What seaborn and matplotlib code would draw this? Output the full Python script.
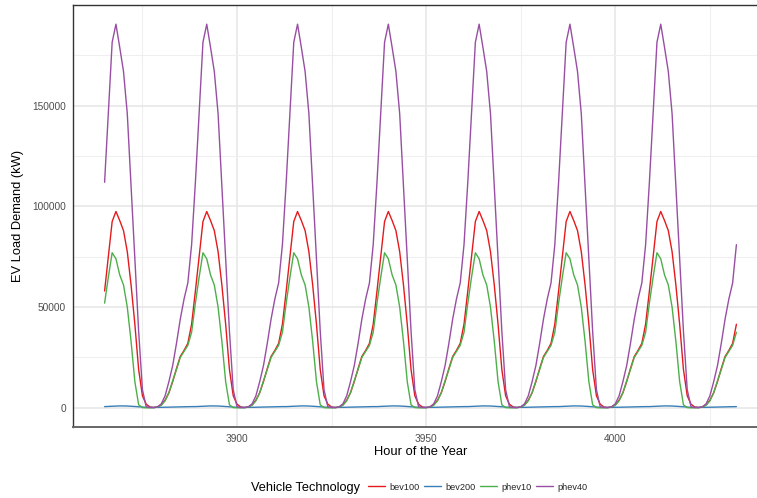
import numpy as np
import pandas as pd
import matplotlib
matplotlib.use("Agg")
import matplotlib.pyplot as plt
from matplotlib.ticker import MultipleLocator, FixedLocator
import seaborn as sns

# one week of hourly data, the seven days are identical in the source chart
start_hour = 3865
n_days = 7
techs = ["bev100", "bev200", "phev10", "phev40"]

# daily profiles (kW), hour 0 of the profile = hour 3865, 3889, ...
bev100_day = [58000, 75500, 92500, 97500, 93000, 88000, 77500, 61000,
              41500, 19000, 6000, 1800, 400, 150, 400, 1500,
              3800, 7500, 13000, 19500, 25500, 28500, 32000, 41500]
bev200_day = [600, 700, 800, 900, 950, 950, 900, 800,
              650, 500, 350, 250, 200, 200, 200, 250,
              300, 350, 400, 450, 500, 550, 550, 600]
phev10_day = [52000, 65000, 77000, 74000, 66000, 61000, 50000, 33000,
              13000, 1500, 100, 0, 0, 100, 400, 1300,
              3500, 7500, 13500, 19000, 25000, 28000, 31000, 37500]
phev40_day = [112000, 147000, 181500, 190500, 179000, 167000, 146000, 110000,
              73000, 38000, 9000, 500, 150, 100, 500, 2000,
              6000, 13000, 21000, 32000, 44000, 54000, 62000, 81000]

y_ticks = [0, 50000, 100000, 150000]
y_minor = [25000, 75000, 125000, 175000]

colors = ["#E41A1C", "#377EB8", "#4DAF4A", "#984EA3"]


def build_frame():
    hours = np.arange(start_hour, start_hour + 24 * n_days)
    profiles = [bev100_day, bev200_day, phev10_day, phev40_day]
    parts = []
    for tech, prof in zip(techs, profiles):
        parts.append(pd.DataFrame({"hour": hours,
                                   "load": np.tile(prof, n_days),
                                   "tech": tech}))
    return pd.concat(parts, ignore_index=True)


df = build_frame()

sns.set_style("white")
plt.rcParams["font.family"] = ["Liberation Sans", "DejaVu Sans"]

W, H = 757, 498
fig = plt.figure(figsize=(W / 100, H / 100), dpi=100)
# the full panel would end at x=768, the reference picture cuts it at 757
left, right, top, bottom = 73, 768, 5, 427
ax = fig.add_axes([left / W, 1 - bottom / H, (W - left) / W, (bottom - top) / H])

sns.lineplot(data=df, x="hour", y="load", hue="tech", hue_order=techs,
             palette=colors, linewidth=1.0, estimator=None, ax=ax)

x0, x1 = df["hour"].min(), df["hour"].max()
ymax = df["load"].max()
x_lo = x0 - 0.05 * (x1 - x0)
x_hi = x1 + 0.05 * (x1 - x0)
x_cut = x_lo + (x_hi - x_lo) * (W - left) / (right - left)
ax.set_xlim(x_lo, x_cut)
ax.set_ylim(-0.05 * ymax, 1.05 * ymax)

ax.xaxis.set_major_locator(MultipleLocator(50))
ax.xaxis.set_minor_locator(MultipleLocator(25))
ax.yaxis.set_major_locator(FixedLocator(y_ticks))
ax.yaxis.set_minor_locator(FixedLocator(y_minor))
ax.grid(which="major", color="#E6E6E6", lw=1.1)
ax.grid(which="minor", color="#EFEFEF", lw=0.8)
ax.set_axisbelow(True)

ax.tick_params(which="major", length=3, width=0.8, color="#333333",
               labelsize=7.3, labelcolor="#4D4D4D", pad=2)
ax.tick_params(which="minor", length=0)
ax.tick_params(axis="x", pad=2)
ax.set_xlabel("")
ax.set_ylabel("")

for side in ["top", "left"]:
    ax.spines[side].set_color("#333333")
    ax.spines[side].set_linewidth(1.0)
ax.spines["right"].set_visible(False)
ax.spines["bottom"].set_color("#666666")
ax.spines["bottom"].set_linewidth(1.4)

fig.text(18 / W, 1 - 216 / H, "EV Load Demand (kW)", rotation=90,
         ha="center", va="center", fontsize=9.3, color="black")
fig.text((left + right) / 2 / W, 1 - 452 / H, "Hour of the Year",
         ha="center", va="center", fontsize=9.3, color="black")

# legend along the bottom, title to the left of the keys
handles, labels = ax.get_legend_handles_labels()
ax.get_legend().remove()
fig.text(251 / W, 1 - 488 / H, "Vehicle Technology", ha="left", va="center",
         fontsize=9.2, color="black")
leg = fig.legend(handles, labels, loc="center left", ncol=4,
                 bbox_to_anchor=(368 / W, 1 - 487 / H), frameon=False,
                 fontsize=6.6, handlelength=1.85, handletextpad=0.5,
                 columnspacing=0.45, borderpad=0, borderaxespad=0)
for line in leg.get_lines():
    line.set_linewidth(1.0)

fig.savefig("out.png", dpi=100)
